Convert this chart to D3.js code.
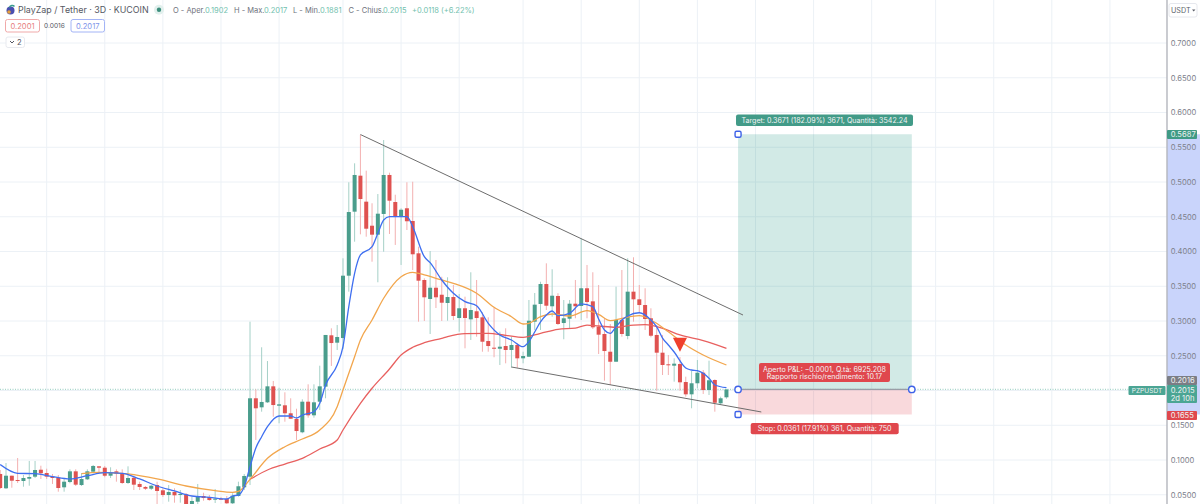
<!DOCTYPE html>
<html lang="it">
<head>
<meta charset="UTF-8">
<title>PZPUSDT</title>
<script src="https://d3js.org/d3.v7.min.js"></script>
<style>
  html, body { margin: 0; padding: 0; background: #fff; overflow: hidden; }
  svg { display: block; font-family: Inter, "Open Sans", sans-serif; }
</style>
</head>
<body>
<div id="chart"></div>
<script>
// candles
const opens = [
  .0799,.0593,.0774,.0712,.0698,.0731,.0760,.0860,.0813,.0760,
  .0745,.0607,.0683,.0837,.0640,.0722,.0832,.0909,.0889,.0774,
  .0837,.0813,.0669,.0745,.0655,.0612,.0587,.0640,.0564,.0496,
  .0540,.0496,.0506,.0353,.0400,.0482,.0468,.0429,.0443,.0439,
  .0377,.0482,.0607,.0760,.1888,.1758,.1830,.2060,.1781,.1787,
  .1672,.1590,.1399,.1839,.1643,.1839,.2055,.2794,.2688,.2755,
  .3652,.4573,.5091,.4717,.4371,.4242,.4540,.5101,.4712,.4496,
  .4622,.4439,.3974,.3590,.3317,.3479,.3378,.3259,.3345,.3043,
  .3183,.3024,.3140,.3053,.2712,.2616,.2601,.2640,.2583,.2655,
  .2463,.2486,.2990,.3245,.3532,.3212,.3360,.2971,.3033,.3249,
  .3216,.3471,.3283,.2918,.2813,.2558,.2414,.3014,.2784,.3422,
  .3312,.3230,.3039,.2799,.2544,.2377,.2357,.2381,.2122,.1945,
  .2104,.2256,.2007,.2151,.1816,.1902];
const closes = [
  .0597,.0774,.0702,.0698,.0741,.0755,.0856,.0809,.0760,.0741,
  .0597,.0688,.0837,.0645,.0727,.0837,.0914,.0889,.0774,.0817,
  .0803,.0669,.0741,.0645,.0612,.0587,.0630,.0554,.0496,.0540,
  .0492,.0511,.0353,.0410,.0482,.0453,.0424,.0443,.0435,.0377,
  .0486,.0622,.0770,.1888,.1744,.1835,.2060,.1791,.1801,.1672,
  .1594,.1417,.1839,.1643,.1830,.2060,.2799,.2683,.2770,.3652,
  .4568,.5101,.4755,.4328,.4242,.4544,.5101,.4731,.4496,.4601,
  .4435,.3960,.3580,.3341,.3479,.3341,.3263,.3345,.3072,.3183,
  .3043,.3158,.3043,.2702,.2640,.2601,.2630,.2583,.2655,.2463,
  .2496,.3004,.3235,.3532,.3220,.3364,.2957,.3039,.3249,.3212,
  .3471,.3273,.2909,.2803,.2568,.2414,.3014,.2813,.3422,.3312,
  .3230,.3029,.2788,.2544,.2367,.2363,.2386,.2118,.1945,.2104,
  .2256,.2007,.2147,.1824,.1888,.2015];
const highs = [
  .0856,.0957,.0774,.1029,.0784,.0986,.0986,.0918,.0875,.0799,
  .0784,.0737,.0866,.0866,.0813,.0866,.0928,.0914,.0914,.0895,
  .0866,.0866,.0909,.0774,.0688,.0626,.0640,.0688,.0593,.0640,
  .0593,.0568,.0525,.0472,.0655,.0529,.0496,.0583,.0468,.0482,
  .0521,.0688,.0799,.2990,.2017,.2622,.2424,.2137,.2040,.1974,
  .1888,.1738,.1873,.2089,.2089,.2357,.2799,.2895,.2942,.3902,
  .4996,.5269,.5676,.5163,.4694,.4827,.5604,.5134,.4817,.4622,
  .4996,.5004,.4069,.3614,.4007,.3878,.3637,.3629,.3518,.3388,
  .3350,.3701,.3590,.3125,.3053,.3197,.2846,.2895,.2774,.2679,
  .2558,.3302,.3403,.3565,.3830,.3744,.3399,.3302,.3302,.3590,
  .4190,.3806,.3701,.3518,.3043,.2957,.3494,.3734,.3902,.3917,
  .3518,.3471,.3183,.2942,.2799,.2511,.2463,.2482,.2199,.2281,
  .2439,.2295,.2429,.2161,.1911,.2017];
const lows = [
  .0583,.0583,.0601,.0669,.0616,.0630,.0741,.0727,.0727,.0655,
  .0544,.0544,.0665,.0626,.0626,.0712,.0809,.0813,.0751,.0741,
  .0688,.0655,.0655,.0568,.0568,.0568,.0568,.0367,.0468,.0400,
  .0386,.0386,.0353,.0353,.0367,.0414,.0414,.0381,.0424,.0367,
  .0367,.0472,.0568,.0640,.1288,.1695,.1820,.1623,.1528,.1551,
  .1590,.1288,.1384,.1609,.1609,.1719,.1888,.2353,.2583,.2593,
  .3422,.4141,.4247,.4213,.3853,.3557,.3997,.4252,.4094,.3806,
  .4309,.3734,.2990,.3000,.2813,.3187,.3000,.3004,.3014,.2846,
  .2607,.2727,.2774,.2558,.2558,.2478,.2367,.2391,.2328,.2328,
  .2391,.2486,.2871,.2871,.3158,.3062,.2942,.2737,.2895,.3039,
  .3014,.3039,.2885,.2525,.2141,.2079,.2414,.2774,.2737,.2990,
  .3115,.2871,.2765,.1997,.2223,.2223,.2127,.1997,.1911,.1744,
  .2032,.1950,.1935,.1695,.1791,.1881];

// moving averages, sampled at these bars
const blueBars = [0,3,6,9,12,15,18,21,24,27,30,33,36,39,40,41,42,43,44,45,46,48,50,51,52,54,55,56,58,59,60,61,62,64,65,66,67,70,71,73,74,76,78,80,82,84,86,88,90,91,92,93,94,95,96,98,100,102,103,104,105,106,107,108,110,112,113,114,115,116,118,119,120,122,123,125];
const blueVals = [.0935,.0809,.0803,.0760,.0727,.0774,.0817,.0809,.0727,.0626,.0554,.0482,.0463,.0439,.0482,.0496,.0616,.0904,.1173,.1335,.1479,.1633,.1633,.1604,.1647,.1695,.1816,.2079,.2367,.2630,.3206,.3686,.3950,.4069,.4262,.4453,.4501,.4501,.4357,.3925,.3839,.3590,.3399,.3278,.3220,.2967,.2799,.2727,.2630,.2702,.2842,.2986,.3086,.3144,.3076,.3111,.3245,.3206,.3029,.2871,.2823,.2918,.3014,.3072,.3119,.3014,.2914,.2755,.2655,.2554,.2324,.2295,.2285,.2176,.2079,.2040];
const orangeBars = [14,17,22,27,32,37,40,41,43,46,49,52,55,58,59,61,62,64,66,69,71,73,76,78,82,85,88,90,91,93,95,98,101,103,105,107,110,112,115,118,121,125];
const orangeVals = [.0803,.0823,.0799,.0727,.0626,.0558,.0535,.0547,.0722,.1024,.1191,.1302,.1432,.1767,.2007,.2486,.2727,.3014,.3327,.3637,.3701,.3662,.3590,.3542,.3399,.3197,.3062,.2957,.2967,.3062,.3101,.3072,.3148,.3094,.3004,.3039,.3076,.3014,.2846,.2655,.2511,.2367];
const redBars = [43,46,49,52,55,58,59,62,64,67,69,71,73,76,77,80,84,87,90,93,96,99,101,103,106,109,111,114,117,121,125];
const redVals = [.0722,.0856,.0942,.1024,.1158,.1288,.1432,.1816,.2032,.2309,.2511,.2622,.2688,.2751,.2774,.2817,.2823,.2794,.2765,.2823,.2881,.2899,.2942,.2928,.2909,.2942,.2947,.2895,.2799,.2717,.2607];

// drawings on the chart, as [bar, price]
const upperTrend = [[62, .5683], [127.85, .3086]];
const lowerTrend = [[88, .2338], [131, .1691]];
const sellBar = 117;
const sellPrice = .2659;

// long position tool
const posBars = [127, 156.9];
const targetPrice = .5687;
const entryPrice = .2015;
const stopPrice = .1655;
const lastPrice = .2015;

const priceTicks = [.7,.65,.6,.55,.5,.45,.4,.35,.3,.25,.2,.15,.1,.05];
const gridBars = [8,18,28,38,48,59,69,79,90,100,110,120,130,140,150,161,171,181,191];

const w = 1200, h = 504, plotRight = 1167;
const green = "#4a9d8c", red = "#df5250";

const x = d3.scaleLinear().domain([0, 200]).range([0.2, 1162.2]);
const y = d3.scaleLinear().domain([.05, .7]).range([494.75, 43]);

const svg = d3.select("#chart").append("svg").attr("width", w).attr("height", h);
svg.append("rect").attr("width", w).attr("height", h).attr("fill", "#fff");

// grid
svg.append("g").selectAll("line").data(priceTicks).join("line")
  .attr("x1", 0).attr("x2", plotRight)
  .attr("y1", d => y(d)).attr("y2", d => y(d))
  .attr("stroke", "#ecf1f6").attr("stroke-width", 1);
svg.append("g").selectAll("line").data(gridBars).join("line")
  .attr("x1", d => x(d)).attr("x2", d => x(d))
  .attr("y1", 0).attr("y2", h)
  .attr("stroke", "#ecf1f6").attr("stroke-width", 1);

// position boxes
svg.append("rect")
  .attr("x", x(posBars[0])).attr("width", x(posBars[1]) - x(posBars[0]))
  .attr("y", y(targetPrice)).attr("height", y(entryPrice) - y(targetPrice))
  .attr("fill", "#088c74").attr("fill-opacity", .18);
svg.append("rect")
  .attr("x", x(posBars[0])).attr("width", x(posBars[1]) - x(posBars[0]))
  .attr("y", y(entryPrice)).attr("height", y(stopPrice) - y(entryPrice))
  .attr("fill", "#e0404f").attr("fill-opacity", .2);

// last price line
svg.append("line")
  .attr("x1", 0).attr("x2", 1130)
  .attr("y1", y(lastPrice)).attr("y2", y(lastPrice))
  .attr("stroke", "#a9d6cc").attr("stroke-width", 1.2).attr("stroke-dasharray", "1 1.5");

// candles
const candles = svg.append("g").selectAll("g").data(opens.map((o, i) => i)).join("g");
candles.append("line")
  .attr("x1", i => x(i)).attr("x2", i => x(i))
  .attr("y1", i => y(highs[i])).attr("y2", i => y(lows[i]))
  .attr("stroke", i => closes[i] >= opens[i] ? "#a5d0c7" : "#f3b0b0")
  .attr("stroke-width", 1);
candles.append("rect")
  .attr("x", i => x(i) - 2).attr("width", 4)
  .attr("y", i => y(Math.max(opens[i], closes[i])))
  .attr("height", i => Math.max(1, Math.abs(y(opens[i]) - y(closes[i]))))
  .attr("fill", i => closes[i] >= opens[i] ? green : red);

// moving averages
function drawMa(bars, vals, colour) {
  const line = d3.line().x(d => x(d[0])).y(d => y(d[1])).curve(d3.curveMonotoneX);
  svg.append("path")
    .attr("d", line(bars.map((b, i) => [b, vals[i]])))
    .attr("fill", "none").attr("stroke", colour).attr("stroke-width", 1.3);
}
drawMa(redBars, redVals, "#e8605f");
drawMa(orangeBars, orangeVals, "#f2a64d");
drawMa(blueBars, blueVals, "#3f6ff0");

// trend lines
const trend = d3.line().x(d => x(d[0])).y(d => y(d[1]));
[upperTrend, lowerTrend].forEach(t => {
  svg.append("path").attr("d", trend(t)).attr("fill", "none")
    .attr("stroke", "#6d6d6d").attr("stroke-width", 1);
});

// sell marker
const sx = x(sellBar), sy = y(sellPrice);
svg.append("path")
  .attr("d", d3.line()([[sx - 7, sy - 7], [sx + 7, sy - 7], [sx, sy + 7]]) + "Z")
  .attr("fill", "#f0402c");

// entry line and handles
svg.append("line")
  .attr("x1", x(posBars[0])).attr("x2", x(posBars[1]))
  .attr("y1", y(entryPrice)).attr("y2", y(entryPrice))
  .attr("stroke", "#9a9ea6").attr("stroke-width", 1.2);
[[posBars[0], targetPrice], [posBars[0], stopPrice]].forEach(d => {
  svg.append("rect")
    .attr("x", x(d[0]) - 3).attr("y", y(d[1]) - 3).attr("width", 6).attr("height", 6).attr("rx", 1.5)
    .attr("fill", "#fff").attr("stroke", "#3e62e8").attr("stroke-width", 1.4);
});
[[posBars[0], entryPrice], [posBars[1], entryPrice]].forEach(d => {
  svg.append("circle")
    .attr("cx", x(d[0])).attr("cy", y(d[1])).attr("r", 3.2)
    .attr("fill", "#fff").attr("stroke", "#3e62e8").attr("stroke-width", 1.4);
});

// tags on the position tool
function tag(x0, x1, y0, y1, fill, lines) {
  svg.append("rect").attr("x", x0).attr("y", y0).attr("width", x1 - x0).attr("height", y1 - y0)
    .attr("rx", 2).attr("fill", fill);
  lines.forEach(l => {
    svg.append("text").attr("x", (x0 + x1) / 2).attr("y", l[1])
      .attr("text-anchor", "middle").attr("font-size", 7.1).attr("fill", "#f4f4f4").text(l[0]);
  });
}
tag(736, 913, 114.5, 126, "#429b88", [["Target: 0.3671 (182.09%) 3671, Quantità: 3542.24", 123]]);
tag(759, 890, 363, 382, "#e0474d", [["Aperto P&L: −0.0001, Q.tà: 6925.208", 371.8], ["Rapporto rischio/rendimento: 10.17", 379.2]]);
tag(750.7, 898.7, 423, 434.3, "#e0474d", [["Stop: 0.0361 (17.91%) 361, Quantità: 750", 431.3]]);

// price axis
svg.append("rect").attr("x", plotRight).attr("y", y(targetPrice)).attr("width", w - plotRight)
  .attr("height", y(stopPrice) - y(targetPrice)).attr("fill", "#c9d4fb");
const axis = svg.append("g").attr("transform", `translate(${plotRight},0)`)
  .call(d3.axisRight(y).tickValues(priceTicks).tickFormat(d3.format(".4f")).tickSize(0).tickPadding(3.7));
axis.select(".domain").remove();
axis.selectAll("text").attr("font-family", "Inter, sans-serif").attr("font-size", 7.6).attr("fill", "#7e828c");
svg.append("line").attr("x1", plotRight).attr("x2", plotRight).attr("y1", 0).attr("y2", h)
  .attr("stroke", "#b4b6bd").attr("stroke-width", 1.4);

function priceTag(y0, y1, fill, lines) {
  svg.append("rect").attr("x", plotRight).attr("y", y0).attr("width", 30).attr("height", y1 - y0)
    .attr("rx", 1).attr("fill", fill);
  lines.forEach(l => {
    svg.append("text").attr("x", 1170.7).attr("y", l[1]).attr("font-size", 7.6)
      .attr("fill", "#eef2f1").text(l[0]);
  });
}
priceTag(130, 139, "#3f9a85", [["0.5687", 137.3]]);
priceTag(376, 385, "#7b7d85", [["0.2016", 383.3]]);
priceTag(385, 403, "#4ba594", [["0.2015", 392.8], ["2d 10h", 400.8]]);
priceTag(411, 420, "#e0474d", [["0.1655", 418.3]]);
svg.append("rect").attr("x", 1128.5).attr("y", 386).attr("width", 37).attr("height", 9).attr("rx", 1).attr("fill", "#4ba594");
svg.append("text").attr("x", 1147).attr("y", 393.3).attr("text-anchor", "middle")
  .attr("font-size", 6.6).attr("fill", "#eef2f1").text("PZPUSDT");

// USDT button
svg.append("rect").attr("x", 1169).attr("y", 3.5).attr("width", 28).attr("height", 13.5).attr("rx", 2)
  .attr("fill", "#fff").attr("stroke", "#e6e8ee");
svg.append("text").attr("x", 1171).attr("y", 13).attr("font-size", 7.2).attr("fill", "#5c5f69").text("USDT");
svg.append("path").attr("d", "M1192 9.5h3.4l-1.7 2z").attr("fill", "#5c5f69");

// legend
svg.append("circle").attr("cx", 10.5).attr("cy", 10.5).attr("r", 4).attr("fill", "#4a4fb0");
svg.append("circle").attr("cx", 9).attr("cy", 12).attr("r", 1.8).attr("fill", "#e8a13a");
svg.append("path").attr("d", "M9.5 7.5a3 3 0 0 1 5-1").attr("fill", "none").attr("stroke", "#3a9d8f").attr("stroke-width", 1.5);
svg.append("text").attr("x", 18).attr("y", 13.4).attr("font-size", 8.9).attr("fill", "#555862")
  .text("PlayZap / Tether · 3D · KUCOIN");
svg.append("circle").attr("cx", 159).attr("cy", 9.8).attr("r", 5).attr("fill", "#e2f0ed");
svg.append("circle").attr("cx", 159).attr("cy", 9.8).attr("r", 2.2).attr("fill", "#3e8f7d");

const ohlcLabels = [["O - Aper.", 173], ["H - Max.", 234], ["L - Min.", 293], ["C - Chius.", 348.5]];
const ohlcValues = [["0.1902", 205], ["0.2017", 264], ["0.1881", 320], ["0.2015", 383], ["+0.0118 (+6.22%)", 412]];
ohlcLabels.forEach(d => svg.append("text").attr("x", d[1]).attr("y", 12.8).attr("font-size", 7.5).attr("fill", "#6e717b").text(d[0]));
ohlcValues.forEach(d => svg.append("text").attr("x", d[1]).attr("y", 12.8).attr("font-size", 7.5).attr("fill", "#72bfae").text(d[0]));

function box(x0, x1, stroke, label, colour) {
  svg.append("rect").attr("x", x0).attr("y", 19.5).attr("width", x1 - x0).attr("height", 12.5).attr("rx", 2)
    .attr("fill", "#fff").attr("stroke", stroke);
  svg.append("text").attr("x", (x0 + x1) / 2).attr("y", 28.6).attr("text-anchor", "middle")
    .attr("font-size", 7.6).attr("fill", colour).text(label);
}
box(5.5, 39.5, "#f0a9a9", "0.2001", "#e77f7f");
box(71, 104.5, "#a3b4f6", "0.2017", "#7f95ea");
svg.append("text").attr("x", 44).attr("y", 28.4).attr("font-size", 6.6).attr("fill", "#555862").text("0.0016");

svg.append("rect").attr("x", 6).attr("y", 37).attr("width", 18.5).attr("height", 10.5).attr("rx", 2)
  .attr("fill", "#fff").attr("stroke", "#e8eaef");
svg.append("path").attr("d", "M10 41l2 2 2-2").attr("fill", "none").attr("stroke", "#555862").attr("stroke-width", 1);
svg.append("text").attr("x", 17).attr("y", 45.2).attr("font-size", 7.6).attr("fill", "#555862").text("2");
</script>
</body>
</html>
